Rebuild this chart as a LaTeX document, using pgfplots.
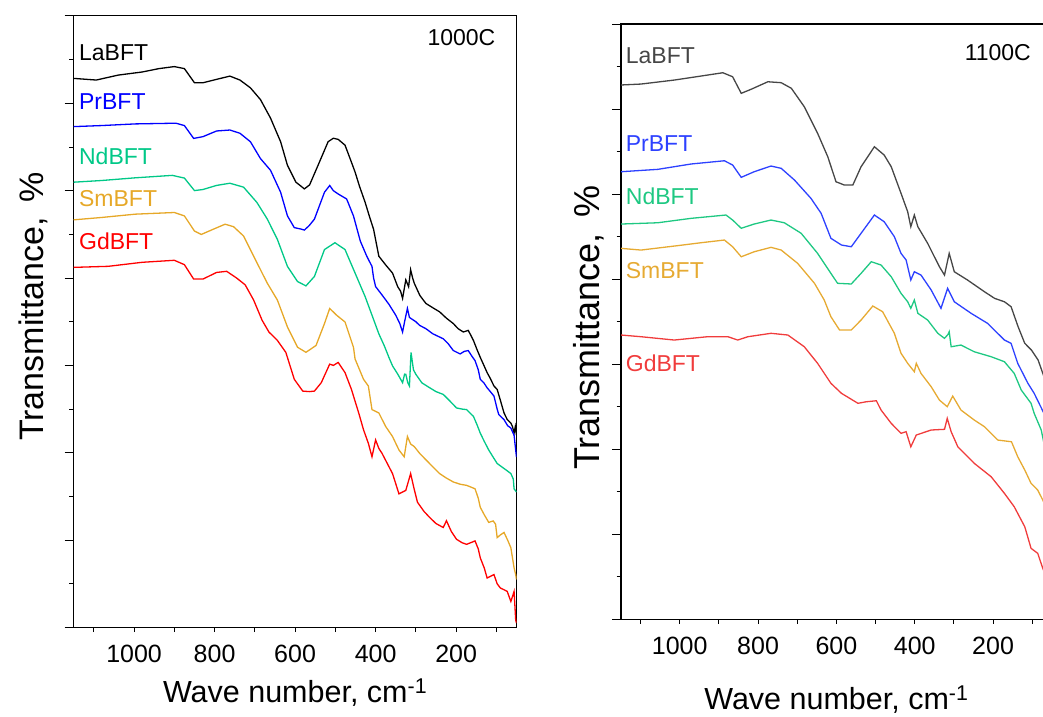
\documentclass[border=0pt]{standalone}
\usepackage{pgfplots}
\pgfplotsset{compat=1.18}
\usepackage{fontspec}
\setmainfont{Liberation Sans}
\definecolor{cBlk}{RGB}{0,0,0}
\definecolor{cBlu}{RGB}{0,0,255}
\definecolor{cGrn}{RGB}{0,200,135}
\definecolor{cOrg}{RGB}{230,168,40}
\definecolor{cRed}{RGB}{255,0,0}
\definecolor{dBlk}{RGB}{70,70,70}
\definecolor{dBlu}{RGB}{45,65,255}
\definecolor{dGrn}{RGB}{30,200,130}
\definecolor{dOrg}{RGB}{230,170,50}
\definecolor{dRed}{RGB}{240,60,60}
\tikzset{lab/.style={anchor=base west, font=\fontsize{23}{28}\selectfont, inner sep=0pt}}
\pgfplotsset{
  ftir/.style={
    scale only axis,
    x dir=reverse,
    xmin=50, xmax=1150,
    ymin=0, ymax=7,
    xtick={200,400,...,1000},
    minor xtick={100,300,...,1100},
    ytick={0,...,7},
    minor ytick={0.5,1.5,...,6.5},
    yticklabels={},
    tick pos=left,
    tick align=outside,
    major tick length=9pt, minor tick length=4.5pt,
    xtick style={/pgfplots/major tick length=4.5pt},
    tick style={black, line width=0.9pt},
    axis line style={line width=1.1pt},
    xticklabel style={font=\fontsize{25}{30}\selectfont},
    xticklabel shift=5pt,
    /pgf/number format/assume math mode=true,
    /pgf/number format/1000 sep={},
    every axis plot/.append style={line width=1.3pt, no marks},
    clip=true,
    xlabel={Wave number, cm\textsuperscript{-1}},
    ylabel={Transmittance,\, \%},
    every axis x label/.style={font=\fontsize{30.5}{36}\selectfont, anchor=base},
    every axis y label/.style={font=\fontsize{34}{40}\selectfont, anchor=base, rotate=90},
  },
}
\begin{document}
\begin{tikzpicture}
% ---------------- left panel : 1000C ----------------
\begin{axis}[ftir,
  at={(73.7pt,-627.5pt)}, anchor=south west,
  width=442.8pt, height=611.6pt,
  x label style={at={(axis description cs:0.5,-0.123)}},
  y label style={at={(axis description cs:-0.069,0.525)}},
]
\addplot[cBlk] coordinates {
(1150,6.285)(1094,6.266)(1039,6.323)(980,6.358)(938,6.397)(900,6.420)(875,6.397)(850,6.235)(829,6.235)(795,6.274)(762,6.311)(737,6.266)(711,6.177)(686,6.042)(661,5.830)(636,5.560)(619,5.290)(598,5.097)(585,5.05)(577,5.020)(564,5.066)(543,5.290)(518,5.560)(505,5.60)(493,5.587)(476,5.521)(462,5.35)(451,5.213)(440,5.05)(426,4.866)(415,4.70)(405,4.557)(392,4.250)(375,4.15)(358,4.057)(345,3.90)(338,3.85)(333,3.767)(328,3.90)(325,3.979)(318,3.90)(313,4.095)(308,4.00)(304,3.941)(290,3.80)(275,3.709)(258,3.66)(241,3.613)(224,3.54)(207,3.479)(195,3.42)(182,3.382)(170,3.401)(164,3.35)(157,3.286)(148,3.18)(140,3.092)(131,3.00)(123,2.918)(115,2.85)(106,2.764)(98,2.725)(90,2.60)(81,2.456)(73,2.38)(64,2.340)(60,2.30)(56,2.225)(53,2.30)(50,2.20)};
\addplot[cBlu] coordinates {
(1150,5.733)(1081,5.745)(997,5.764)(896,5.772)(875,5.745)(852,5.598)(829,5.618)(795,5.683)(762,5.694)(737,5.657)(711,5.560)(686,5.367)(661,5.233)(636,4.982)(619,4.711)(602,4.577)(585,4.56)(577,4.549)(565,4.60)(552,4.674)(527,4.982)(514,5.059)(505,5.00)(493,4.962)(472,4.905)(455,4.711)(438,4.423)(422,4.250)(409,4.133)(405,4.00)(400,3.902)(384,3.806)(367,3.70)(350,3.575)(340,3.48)(333,3.382)(328,3.50)(321,3.652)(316,3.55)(312,3.536)(300,3.50)(291,3.459)(275,3.42)(258,3.362)(232,3.305)(220,3.25)(207,3.170)(190,3.131)(180,3.16)(170,3.170)(160,3.10)(153,3.055)(145,2.95)(140,2.841)(131,2.80)(123,2.744)(115,2.70)(106,2.649)(98,2.50)(94,2.437)(81,2.379)(72,2.31)(64,2.283)(56,2.20)(52,2.032)(50,1.95)};
\addplot[cGrn] coordinates {
(1150,5.097)(1081,5.116)(997,5.147)(905,5.175)(875,5.144)(850,5.001)(829,5.013)(795,5.060)(762,5.085)(728,5.040)(695,4.866)(669,4.674)(644,4.442)(619,4.133)(594,3.960)(573,3.910)(552,4.018)(527,4.326)(501,4.404)(476,4.326)(451,4.057)(426,3.787)(409,3.575)(392,3.362)(378,3.22)(367,3.092)(358,2.995)(345,2.90)(333,2.802)(328,2.90)(325,2.898)(320,2.80)(316,2.764)(312,3.149)(306,2.95)(300,2.898)(285,2.80)(266,2.745)(250,2.70)(232,2.668)(215,2.59)(199,2.513)(185,2.50)(174,2.494)(157,2.417)(148,2.32)(140,2.225)(130,2.13)(119,2.032)(108,1.95)(98,1.877)(81,1.820)(72,1.79)(64,1.762)(58,1.70)(56,1.588)(50,1.55)};
\addplot[cOrg] coordinates {
(1150,4.666)(1081,4.693)(997,4.731)(900,4.750)(875,4.711)(850,4.538)(833,4.499)(804,4.557)(774,4.616)(753,4.588)(728,4.481)(703,4.250)(669,3.940)(644,3.748)(619,3.440)(594,3.208)(573,3.150)(548,3.228)(527,3.479)(514,3.652)(497,3.575)(476,3.497)(455,3.208)(451,3.073)(430,2.841)(418,2.764)(409,2.494)(392,2.456)(375,2.301)(358,2.186)(342,2.032)(329,1.954)(321,2.186)(313,2.10)(304,2.071)(290,1.99)(274,1.915)(258,1.84)(241,1.762)(224,1.71)(207,1.666)(190,1.64)(174,1.627)(153,1.588)(145,1.48)(140,1.376)(130,1.29)(119,1.203)(108,1.22)(102,1.183)(98,1.029)(90,1.06)(81,1.088)(72,1.00)(64,0.913)(56,0.683)(52,0.605)(50,0.55)};
\addplot[cRed] coordinates {
(1150,4.122)(1064,4.134)(980,4.180)(900,4.203)(875,4.153)(852,3.988)(829,3.988)(795,4.064)(770,4.077)(745,3.999)(724,3.922)(703,3.748)(682,3.517)(665,3.382)(644,3.286)(623,3.149)(602,2.841)(581,2.706)(565,2.70)(552,2.706)(535,2.802)(514,3.015)(505,3.00)(493,3.034)(476,2.918)(460,2.725)(442,2.456)(430,2.263)(418,2.108)(409,1.954)(400,2.147)(392,2.05)(384,1.993)(358,1.762)(342,1.530)(325,1.569)(313,1.762)(305,1.60)(296,1.434)(280,1.33)(266,1.261)(250,1.19)(232,1.145)(224,1.222)(212,1.10)(199,1.010)(185,0.97)(174,0.952)(153,0.991)(145,0.90)(140,0.798)(130,0.68)(123,0.567)(106,0.606)(98,0.50)(90,0.452)(80,0.43)(73,0.413)(64,0.298)(56,0.413)(52,0.086)(50,0.05)};
\node[lab, text=cBlk] at (axis cs:1137,6.485) {LaBFT};
\node[lab, text=cBlu] at (axis cs:1137,5.925) {PrBFT};
\node[lab, text=cGrn] at (axis cs:1137,5.302) {NdBFT};
\node[lab, text=cOrg] at (axis cs:1137,4.818) {SmBFT};
\node[lab, text=cRed] at (axis cs:1137,4.328) {GdBFT};
\node[anchor=base east, font=\fontsize{23}{28}\selectfont, inner sep=0pt] at (axis cs:102,6.659) {1000C};
\end{axis}
% ---------------- right panel : 1100C ----------------
\begin{axis}[ftir,
  at={(621pt,-619.3pt)}, anchor=south west,
  width=430.8pt, height=595.3pt,
  x label style={at={(axis description cs:0.5,-0.152)}},
  y label style={at={(axis description cs:-0.050,0.490)}, font=\fontsize{36}{42}\selectfont},
]
\addplot[dBlk] coordinates {
(1150,6.283)(1099,6.294)(1014,6.341)(946,6.388)(890,6.427)(865,6.380)(843,6.185)(818,6.232)(775,6.321)(741,6.310)(715,6.244)(682,6.027)(648,5.715)(622,5.439)(601,5.145)(580,5.107)(558,5.107)(537,5.322)(503,5.557)(478,5.459)(460,5.322)(435,5.009)(418,4.793)(410,4.616)(401,4.754)(392,4.616)(367,4.421)(337,4.146)(324,4.048)(312,4.303)(299,4.087)(265,3.989)(222,3.852)(196,3.774)(171,3.734)(154,3.676)(136,3.440)(119,3.245)(102,3.166)(85,3.049)(70,2.853)(60,2.72)(50,2.60)};
\addplot[dBlu] coordinates {
(1150,5.263)(1056,5.291)(971,5.354)(886,5.392)(865,5.342)(843,5.197)(810,5.263)(767,5.330)(741,5.303)(707,5.165)(665,4.950)(639,4.774)(614,4.480)(587,4.401)(562,4.381)(537,4.539)(503,4.754)(478,4.675)(452,4.499)(435,4.303)(422,4.225)(410,3.990)(401,4.087)(384,4.048)(358,3.872)(333,3.657)(316,3.892)(299,3.734)(256,3.598)(214,3.480)(171,3.284)(154,3.245)(137,3.010)(111,2.775)(95,2.657)(70,2.422)(60,2.32)(50,2.20)};
\addplot[dGrn] coordinates {
(1150,4.648)(1056,4.663)(971,4.715)(882,4.754)(865,4.695)(843,4.598)(810,4.648)(767,4.695)(733,4.663)(690,4.539)(648,4.303)(614,4.068)(597,3.951)(562,3.943)(537,4.068)(511,4.205)(486,4.166)(460,4.028)(435,3.833)(418,3.734)(410,3.657)(401,3.754)(392,3.598)(367,3.519)(341,3.363)(324,3.304)(315,3.35)(312,3.382)(307,3.205)(282,3.225)(248,3.146)(205,3.088)(171,3.029)(146,2.892)(128,2.696)(103,2.540)(95,2.422)(77,2.226)(70,2.069)(50,1.85)};
\addplot[dOrg] coordinates {
(1150,4.362)(1099,4.342)(1014,4.389)(946,4.428)(886,4.460)(865,4.381)(843,4.263)(810,4.322)(767,4.374)(741,4.342)(699,4.186)(656,3.951)(631,3.754)(614,3.558)(592,3.402)(562,3.402)(537,3.519)(507,3.684)(482,3.617)(452,3.363)(435,3.128)(418,3.010)(401,2.911)(396,3.010)(384,2.892)(358,2.735)(337,2.578)(317,2.500)(303,2.625)(282,2.461)(248,2.343)(222,2.265)(188,2.108)(153,2.088)(137,1.912)(119,1.755)(103,1.599)(86,1.520)(73,1.402)(50,1.15)};
\addplot[dRed] coordinates {
(1150,3.343)(1099,3.323)(1014,3.284)(929,3.323)(877,3.323)(852,3.284)(826,3.323)(767,3.363)(724,3.343)(682,3.205)(648,3.010)(614,2.775)(587,2.657)(545,2.540)(524,2.558)(498,2.570)(486,2.461)(460,2.304)(435,2.187)(422,2.206)(410,2.029)(396,2.167)(358,2.226)(324,2.234)(317,2.363)(307,2.206)(290,2.029)(248,1.834)(205,1.677)(171,1.481)(146,1.324)(119,1.088)(103,0.835)(86,0.776)(73,0.599)(50,0.35)};
\node[lab, text=dBlk] at (axis cs:1138,6.538) {LaBFT};
\node[lab, text=dBlu] at (axis cs:1138,5.498) {PrBFT};
\node[lab, text=dGrn] at (axis cs:1138,4.880) {NdBFT};
\node[lab, text=dOrg] at (axis cs:1138,4.009) {SmBFT};
\node[lab, text=dRed] at (axis cs:1138,2.911) {GdBFT};
\node[anchor=base east, font=\fontsize{23}{28}\selectfont, inner sep=0pt] at (axis cs:103,6.576) {1100C};
\end{axis}
\pgfresetboundingbox
\useasboundingbox (0pt,0pt) rectangle (1043pt,-716pt);
\end{tikzpicture}
\end{document}
